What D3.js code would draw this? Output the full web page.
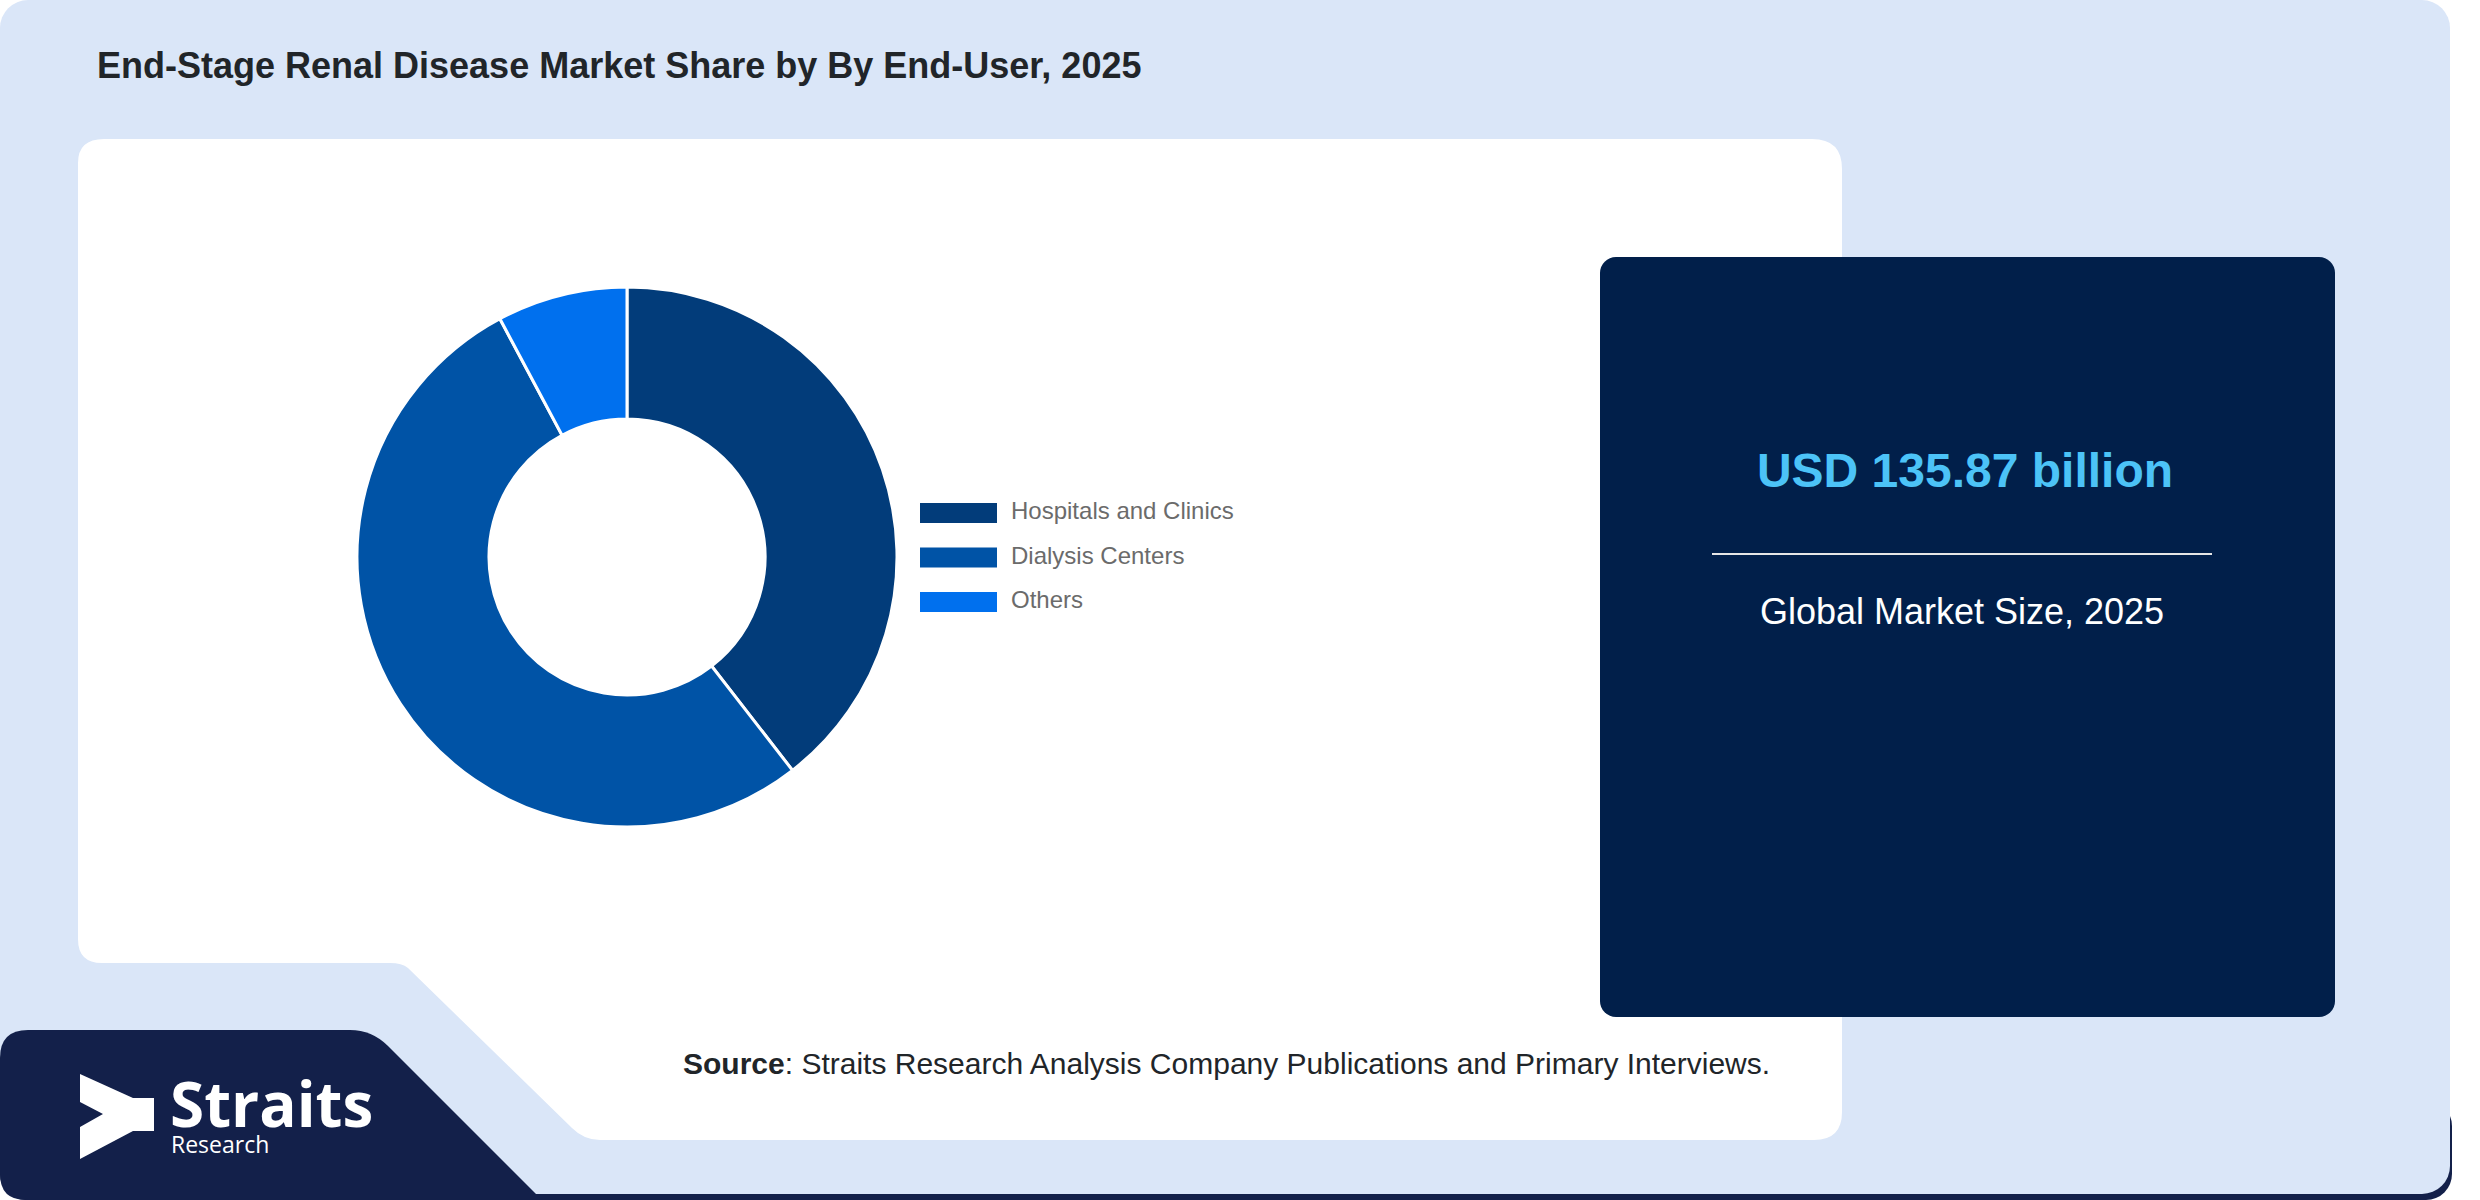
<!DOCTYPE html>
<html>
<head>
  <meta charset="UTF-8">
  <style>
    body { margin: 0; background: #ffffff; }
    svg text { font-family: "Liberation Sans", Arial, sans-serif; }
  </style>
</head>
<body>
<div id="chart_div"></div>
<script src="https://cdnjs.cloudflare.com/ajax/libs/d3/7.8.5/d3.min.js"></script>
<script>

// chart data
const categories = ["Hospitals and Clinics", "Dialysis Centers", "Others"];
const shares = [39.5, 52.7, 7.8];
const sliceColors = ["#023c7a", "#0053a6", "#0070ee"];
const chartTitle = "End-Stage Renal Disease Market Share by By End-User, 2025";
const marketValue = "USD 135.87 billion";
const marketLabel = "Global Market Size, 2025";
const sourceLabel = "Source";
const sourceText = ": Straits Research Analysis Company Publications and Primary Interviews.";

let width = 2480, height = 1200;

let svg = d3.select("#chart_div")
    .append("svg")
    .attr("width", width)
    .attr("height", height)
    .attr("viewBox", "0 0 " + width + " " + height);

// card background
svg.append("rect")
    .attr("x", 0).attr("y", 1100)
    .attr("width", 2452).attr("height", 100)
    .attr("rx", 26)
    .attr("fill", "#13204a");

svg.append("rect")
    .attr("x", 0).attr("y", 0)
    .attr("width", 2450).attr("height", 1194)
    .attr("rx", 28)
    .attr("fill", "#dae6f8");

// dark band with logo
svg.append("path")
    .attr("d", "M0,1058 Q0,1030 28,1030 L350,1030 Q372,1030 388,1046 L540,1198 L540,1200 L26,1200 Q0,1200 0,1174 Z")
    .attr("fill", "#13204a");

// white panel with notch
svg.append("path")
    .attr("d", "M104,139 L1812,139 Q1842,139 1842,169 L1842,1112 Q1842,1140 1814,1140 L600,1140 Q584,1140 572,1128 L408,968 Q402,963 390,963 L102,963 Q78,963 78,939 L78,163 Q78,139 104,139 Z")
    .attr("fill", "#ffffff");

// title
svg.append("text")
    .attr("x", 97).attr("y", 78)
    .attr("font-size", 36)
    .attr("font-weight", "bold")
    .attr("fill", "#212529")
    .text(chartTitle);

// donut
const cx = 627, cy = 557;
const pie = d3.pie().sort(null).value(d => d.value);
const arc = d3.arc().innerRadius(138).outerRadius(270);
const colorScale = d3.scaleOrdinal().domain(categories).range(sliceColors);
const pieData = categories.map((c, i) => ({ name: c, value: shares[i] }));

svg.append("g")
    .attr("transform", "translate(" + cx + "," + cy + ")")
    .selectAll("path")
    .data(pie(pieData))
    .enter()
        .append("path")
        .attr("d", arc)
        .attr("fill", d => colorScale(d.data.name))
        .attr("stroke", "#ffffff")
        .attr("stroke-width", 3);

// legend
const legendY = d3.scalePoint().domain(categories).range([513, 602]);
let legend = svg.append("g")
    .selectAll("g")
    .data(categories)
    .enter()
        .append("g")
        .attr("transform", d => "translate(920," + legendY(d) + ")");
legend.append("rect")
    .attr("x", 0).attr("y", -10)
    .attr("width", 77).attr("height", 20)
    .attr("fill", d => colorScale(d));
legend.append("text")
    .attr("x", 91).attr("y", 6)
    .attr("font-size", 24)
    .attr("fill", "#6b6b6b")
    .text(d => d);

// market size box
svg.append("rect")
    .attr("x", 1600).attr("y", 257)
    .attr("width", 735).attr("height", 760)
    .attr("rx", 16)
    .attr("fill", "#011f4a");

svg.append("text")
    .attr("x", 1965).attr("y", 487)
    .attr("text-anchor", "middle")
    .attr("font-size", 48)
    .attr("font-weight", "bold")
    .attr("fill", "#4cc3f7")
    .text(marketValue);

svg.append("line")
    .attr("x1", 1712).attr("x2", 2212)
    .attr("y1", 554).attr("y2", 554)
    .attr("stroke", "#e6e6e6")
    .attr("stroke-width", 2);

svg.append("text")
    .attr("x", 1962).attr("y", 624)
    .attr("text-anchor", "middle")
    .attr("font-size", 36)
    .attr("fill", "#ffffff")
    .text(marketLabel);

// source line
let src = svg.append("text")
    .attr("x", 683).attr("y", 1074)
    .attr("font-size", 30)
    .attr("fill", "#212529");
src.append("tspan").attr("font-weight", "bold").text(sourceLabel);
src.append("tspan").text(sourceText);

// logo
svg.append("path")
    .attr("d", "M80,1074 L133,1098 L154,1098 L154,1131 L133,1131 L80,1159 L80,1127 L103,1114 L80,1102 Z")
    .attr("fill", "#ffffff");
svg.append("text")
    .attr("x", 170).attr("y", 1127)
    .attr("font-size", 62)
    .attr("font-weight", "bold")
    .style("font-family", "'Open Sans', sans-serif")
    .attr("fill", "#ffffff")
    .text("Straits");
svg.append("text")
    .attr("x", 171).attr("y", 1153)
    .attr("font-size", 23)
    .style("font-family", "'Open Sans', sans-serif")
    .attr("fill", "#ffffff")
    .text("Research");

</script>
</body>
</html>
